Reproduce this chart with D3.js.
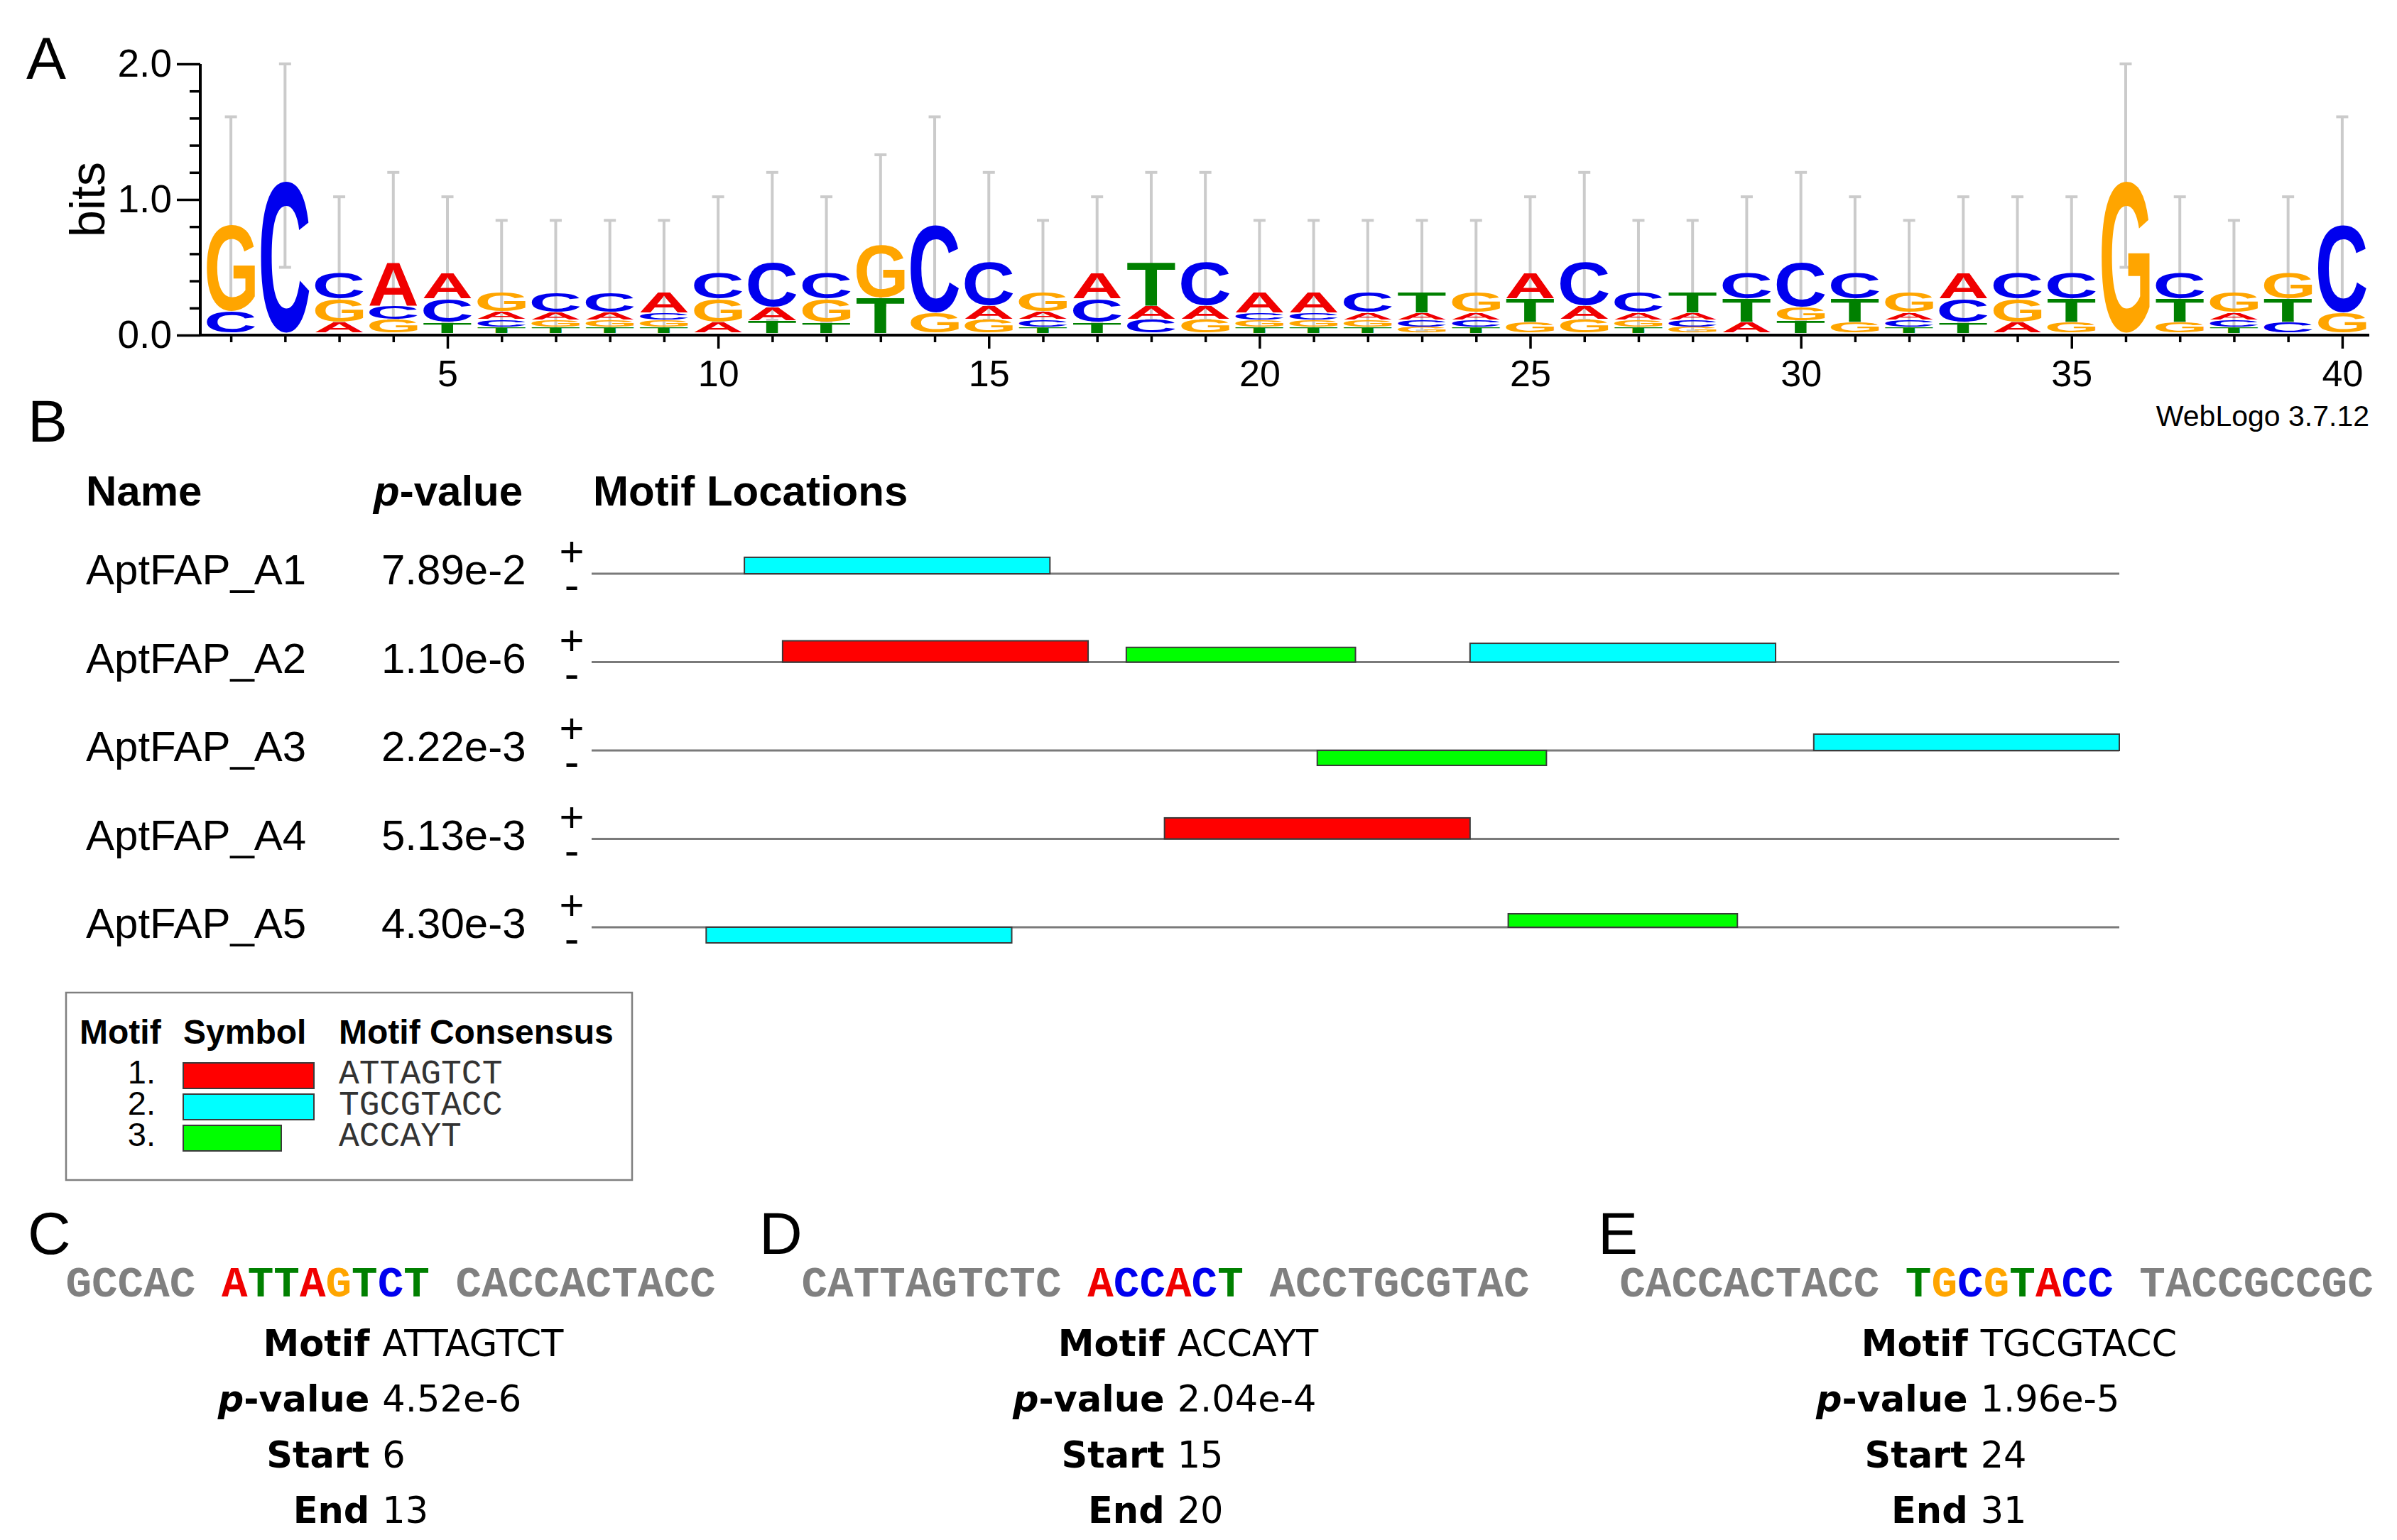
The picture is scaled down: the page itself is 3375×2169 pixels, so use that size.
<!DOCTYPE html>
<html>
<head>
<meta charset="utf-8">
<script src="https://cdn.jsdelivr.net/npm/d3@7"></script>
<style>
  body { margin: 0; background: #fff; }
  svg { display: block; }
</style>
</head>
<body>
<svg id="fig"></svg>
<script>
// ---------- data ----------
// panel A: sequence logo, letters listed bottom -> top, heights in bits
const logoPositions = d3.range(1, 41);
const stackLetters = [
  "CG", "C", "AGC", "GCA", "TCA", "TCAG", "TGAC", "TGAC", "TGCA", "AGC",
  "TAC", "TGC", "TG", "GC", "GAC", "TCAG", "TCA", "CAT", "GAC", "TGCA",
  "TGCA", "TGAC", "GCAT", "TCAG", "GTA", "GAC", "TGAC", "GCAT", "ATC", "TGC",
  "GTC", "TCAG", "TCA", "AGC", "GTC", "G", "GTC", "TCAG", "CTG", "GC"
];
const stackBits = [
  [.16, .64], [1.12], [.08, .17, .19], [.10, .10, .32], [.08, .17, .19],
  [.045, .055, .06, .14], [.045, .05, .06, .145], [.045, .05, .06, .145], [.045, .05, .055, .15], [.08, .17, .19],
  [.09, .10, .33], [.08, .17, .19], [.26, .39], [.15, .65], [.10, .10, .32],
  [.045, .055, .06, .14], [.08, .17, .19], [.10, .10, .32], [.10, .10, .32], [.045, .05, .055, .15],
  [.045, .05, .055, .15], [.045, .05, .055, .15], [.045, .05, .055, .15], [.045, .05, .055, .15], [.08, .17, .19],
  [.10, .10, .32], [.045, .05, .055, .15], [.045, .05, .055, .15], [.08, .17, .19], [.09, .10, .33],
  [.08, .17, .19], [.045, .05, .055, .15], [.08, .17, .19], [.08, .17, .19], [.08, .17, .19],
  [1.12], [.08, .17, .19], [.045, .05, .055, .15], [.08, .17, .19], [.15, .65]
];
const errHigh = [
  1.61, 2.0, 1.02, 1.20, 1.02, .846, .846, .846, .846, 1.02,
  1.20, 1.02, 1.33, 1.61, 1.20, .846, 1.02, 1.20, 1.20, .846,
  .846, .846, .846, .846, 1.02, 1.20, .846, .846, 1.02, 1.20,
  1.02, .846, 1.02, 1.02, 1.02, 2.0, 1.02, .846, 1.02, 1.61
];
const errLow = [
  .26, .50, .10, .11, .10, .03, .03, .03, .03, .10,
  .11, .10, .22, .26, .11, .03, .10, .11, .11, .03,
  .03, .03, .03, .03, .10, .11, .03, .03, .10, .11,
  .10, .03, .10, .10, .10, .50, .10, .03, .10, .26
];
const bitsTicks = [0, .2, .4, .6, .8, 1, 1.2, 1.4, 1.6, 1.8, 2];
const bitsMajor = [0, 1, 2];

// panel B: motif locations
const seqNames = ["AptFAP_A1", "AptFAP_A2", "AptFAP_A3", "AptFAP_A4", "AptFAP_A5"];
const seqPvalues = ["7.89e-2", "1.10e-6", "2.22e-3", "5.13e-3", "4.30e-3"];
const seqLength = 40;
const siteSeq    = [0, 1, 1, 1, 2, 2, 3, 4, 4];
const siteMotif  = [2, 1, 3, 2, 3, 2, 1, 2, 3];
const siteStart  = [5, 6, 15, 24, 20, 33, 16, 4, 25];
const siteStrand = ["+", "+", "+", "+", "-", "+", "+", "-", "+"];
const siteP      = [7.8e-5, 4.52e-6, 2.04e-4, 1.96e-5, 1.8e-4, 7.8e-5, 5.4e-6, 1.2e-4, 4.1e-4];

const motifIds = [1, 2, 3];
const motifLength = [8, 8, 6];
const motifConsensus = ["ATTAGTCT", "TGCGTACC", "ACCAYT"];
const motifColor = ["#ff0000", "#00ffff", "#00ff00"];

// panels C-E: one site each
const detailPanels = ["C", "D", "E"];
const detailLeft  = ["GCCAC", "CATTAGTCTC", "CACCACTACC"];
const detailSite  = ["ATTAGTCT", "ACCACT", "TGCGTACC"];
const detailRight = ["CACCACTACC", "ACCTGCGTAC", "TACCGCCGC"];
const detailMotif = ["ATTAGTCT", "ACCAYT", "TGCGTACC"];
const detailP     = ["4.52e-6", "2.04e-4", "1.96e-5"];
const detailStart = [6, 15, 24];
const detailEnd   = [13, 20, 31];

// ---------- setup ----------
const W = 3375, H = 2169;
const SANS = "'Liberation Sans', Arial, Helvetica, sans-serif";
const VERD = "'DejaVu Sans', Verdana, sans-serif";
const MONO = "'Liberation Mono', 'Courier New', monospace";
const baseColor = { A: "#f00000", C: "#0000ee", G: "#ffa500", T: "#008000" };

const svg = d3.select("#fig").attr("width", W).attr("height", H);
svg.append("rect").attr("width", W).attr("height", H).attr("fill", "#fff");

function panelLabel(txt, x, y) {
  svg.append("text").attr("x", x).attr("y", y)
    .style("font-family", SANS).style("font-size", "84px").text(txt);
}

// ---------- panel A ----------
panelLabel("A", 37, 111);

const x = d3.scaleLinear().domain([0.5, 40.5]).range([287, 3336]);
const y = d3.scaleLinear().domain([0, 2]).range([472, 90]);
const colW = x(2) - x(1);

const gA = svg.append("g");

// error bars (behind letters)
const cap = 8.5;
logoPositions.forEach((p, i) => {
  const cx = x(p);
  gA.append("line").attr("x1", cx).attr("x2", cx)
    .attr("y1", y(errLow[i])).attr("y2", y(errHigh[i]))
    .attr("stroke", "#cbcbcb").attr("stroke-width", 4);
  [errLow[i], errHigh[i]].forEach(v => {
    gA.append("line").attr("x1", cx - cap).attr("x2", cx + cap)
      .attr("y1", y(v)).attr("y2", y(v))
      .attr("stroke", "#cbcbcb").attr("stroke-width", 4);
  });
});

// glyph ink metrics so each letter fills its box exactly
const ctx = document.createElement("canvas").getContext("2d");
ctx.font = "bold 200px 'Liberation Sans'";
const ink = {};
"ACGT".split("").forEach(ch => {
  const m = ctx.measureText(ch);
  ink[ch] = { l: m.actualBoundingBoxLeft, r: m.actualBoundingBoxRight,
              a: m.actualBoundingBoxAscent, d: m.actualBoundingBoxDescent };
});

function glyph(g, ch, x0, x1, yTop, yBot) {
  const k = ink[ch];
  const sx = (x1 - x0) / (k.l + k.r);
  const sy = Math.max(yBot - yTop, 0.5) / (k.a + k.d);
  g.append("text")
    .attr("transform", `translate(${x0 + k.l * sx},${yBot - k.d * sy}) scale(${sx},${sy})`)
    .style("font-family", "'Liberation Sans'").style("font-weight", "bold")
    .style("font-size", "200px").attr("fill", baseColor[ch]).text(ch);
}

const half = colW * 0.445;
logoPositions.forEach((p, i) => {
  let cum = 0;
  stackLetters[i].split("").forEach((ch, j) => {
    const h = stackBits[i][j];
    const yb = y(cum) - 3, yt = y(cum + h) - 3;
    cum += h;
    glyph(gA, ch, x(p) - half, x(p) + half, yt + 0.5, yb - 0.5);
  });
});

// axes
const xAxis = gA.append("g").attr("transform", `translate(0,${y(0)})`)
  .call(d3.axisBottom(x).tickValues(logoPositions).tickSize(19).tickPadding(16)
    .tickFormat(d => d % 5 === 0 ? d : ""));
xAxis.select(".domain").remove();
xAxis.selectAll(".tick line").attr("stroke-width", 3.5)
  .attr("y2", d => d % 5 === 0 ? 19 : 10);
xAxis.selectAll(".tick text").style("font-family", SANS).style("font-size", "52px");

const yAxis = gA.append("g").attr("transform", `translate(282,0)`)
  .call(d3.axisLeft(y).tickValues(bitsTicks).tickSize(33).tickPadding(7)
    .tickFormat(d => bitsMajor.includes(d) ? d3.format(".1f")(d) : ""));
yAxis.select(".domain").remove();
yAxis.selectAll(".tick line").attr("stroke-width", 3.5)
  .attr("x2", d => bitsMajor.includes(d) ? -33 : -15);
yAxis.selectAll(".tick text").style("font-family", SANS).style("font-size", "55px");

gA.append("line").attr("x1", 282).attr("x2", 282).attr("y1", y(2)).attr("y2", y(0) + 2)
  .attr("stroke", "#000").attr("stroke-width", 4);
gA.append("line").attr("x1", 280).attr("x2", x(40.5)).attr("y1", y(0)).attr("y2", y(0))
  .attr("stroke", "#000").attr("stroke-width", 4);

gA.append("text").attr("transform", `translate(147,${(y(0) + y(2)) / 2}) rotate(-90)`)
  .attr("text-anchor", "middle").style("font-family", SANS).style("font-size", "68px")
  .text("bits");
gA.append("text").attr("x", x(40.5)).attr("y", 600).attr("text-anchor", "end")
  .style("font-family", SANS).style("font-size", "41px").text("WebLogo 3.7.12");

// ---------- panel B ----------
panelLabel("B", 39, 622);

const gB = svg.append("g");
const hdr = (xx) => gB.append("text").attr("x", xx).attr("y", 712)
  .style("font-family", SANS).style("font-size", "60px").style("font-weight", "bold");
hdr(121).text("Name");
const pv = hdr(526);
pv.append("tspan").style("font-style", "italic").text("p");
pv.append("tspan").text("-value");
hdr(835).text("Motif Locations");

const rowY = d3.scalePoint().domain(d3.range(seqNames.length)).range([808, 1306]);
const xs = d3.scaleLinear().domain([0, seqLength]).range([833, 2984]);
const blockH = d3.scaleLinear().domain([0, 5.345]).range([0, 30]);

seqNames.forEach((name, r) => {
  const ly = rowY(r);
  gB.append("text").attr("x", 121).attr("y", ly + 15)
    .style("font-family", SANS).style("font-size", "60px").text(name);
  gB.append("text").attr("x", 537).attr("y", ly + 15)
    .style("font-family", SANS).style("font-size", "60px").text(seqPvalues[r]);
  gB.append("text").attr("x", 805).attr("y", ly - 11).attr("text-anchor", "middle")
    .style("font-family", SANS).style("font-size", "60px").text("+");
  gB.append("text").attr("x", 805).attr("y", ly + 37).attr("text-anchor", "middle")
    .style("font-family", SANS).style("font-size", "62px").text("-");
  gB.append("line").attr("x1", xs(0)).attr("x2", xs(seqLength)).attr("y1", ly).attr("y2", ly)
    .attr("stroke", "#7a7a7a").attr("stroke-width", 3);
});

siteSeq.forEach((r, k) => {
  const m = siteMotif[k] - 1;
  const h = blockH(-Math.log10(siteP[k]));
  const ly = rowY(r);
  gB.append("rect")
    .attr("x", xs(siteStart[k] - 1)).attr("width", xs(siteStart[k] - 1 + motifLength[m]) - xs(siteStart[k] - 1))
    .attr("y", siteStrand[k] === "+" ? ly - h : ly).attr("height", h)
    .attr("fill", motifColor[m]).attr("stroke", "#3a3a3a").attr("stroke-width", 2);
});

// legend
const gL = svg.append("g");
gL.append("rect").attr("x", 93).attr("y", 1398).attr("width", 797).attr("height", 264)
  .attr("fill", "none").attr("stroke", "#7f7f7f").attr("stroke-width", 2.5);
[["Motif", 112], ["Symbol", 258], ["Motif Consensus", 477]].forEach(([t, xx]) => {
  gL.append("text").attr("x", xx).attr("y", 1470).style("font-family", SANS)
    .style("font-size", "48px").style("font-weight", "bold").text(t);
});
const legY = d3.scalePoint().domain(motifIds).range([1526, 1614]);
const legW = d3.scaleLinear().domain([0, 8]).range([0, 184]);
motifIds.forEach((id, i) => {
  const by = legY(id);
  gL.append("text").attr("x", 219).attr("y", by).attr("text-anchor", "end")
    .style("font-family", SANS).style("font-size", "47px").text(id + ".");
  gL.append("rect").attr("x", 258).attr("y", by - 29).attr("width", legW(motifLength[i])).attr("height", 36)
    .attr("fill", motifColor[i]).attr("stroke", "#3a3a3a").attr("stroke-width", 2);
  gL.append("text").attr("x", 477).attr("y", by).style("font-family", MONO)
    .style("font-size", "48px").attr("fill", "#333").text(motifConsensus[i]);
});

// ---------- panels C-E ----------
const panelX = [39, 1069, 2250];
const panelCenter = [550, 1641, 2811];
const tableRows = [1910, 1988, 2067, 2145];

detailPanels.forEach((lab, i) => {
  panelLabel(lab, panelX[i], 1766);
  const cx = panelCenter[i];
  const g = svg.append("g");

  const seq = g.append("text").attr("x", cx).attr("y", 1826).attr("text-anchor", "middle")
    .style("font-family", MONO).style("font-size", "61px").style("font-weight", "bold")
    .attr("xml:space", "preserve");
  seq.append("tspan").attr("fill", "#808080").text(detailLeft[i] + " ");
  detailSite[i].split("").forEach(ch => seq.append("tspan").attr("fill", baseColor[ch]).text(ch));
  seq.append("tspan").attr("fill", "#808080").text(" " + detailRight[i]);

  const labels = [], values = [];
  const fs = "51px";
  const mkLab = () => g.append("text").style("font-family", VERD).style("font-size", fs)
    .style("font-weight", "bold").attr("text-anchor", "end");
  let t = mkLab(); t.text("Motif"); labels.push(t);
  t = mkLab(); t.append("tspan").style("font-style", "italic").text("p"); t.append("tspan").text("-value"); labels.push(t);
  t = mkLab(); t.text("Start"); labels.push(t);
  t = mkLab(); t.text("End"); labels.push(t);
  [detailMotif[i], detailP[i], detailStart[i], detailEnd[i]].forEach(v => {
    values.push(g.append("text").style("font-family", VERD).style("font-size", fs).text(v));
  });
  const maxLab = d3.max(labels, s => s.node().getComputedTextLength());
  const maxVal = d3.max(values, s => s.node().getComputedTextLength());
  const gap = 18;
  const labRight = cx - (maxLab + gap + maxVal) / 2 + maxLab;
  labels.forEach((s, k) => s.attr("x", labRight).attr("y", tableRows[k]));
  values.forEach((s, k) => s.attr("x", labRight + gap).attr("y", tableRows[k]));
});
</script>
</body>
</html>
